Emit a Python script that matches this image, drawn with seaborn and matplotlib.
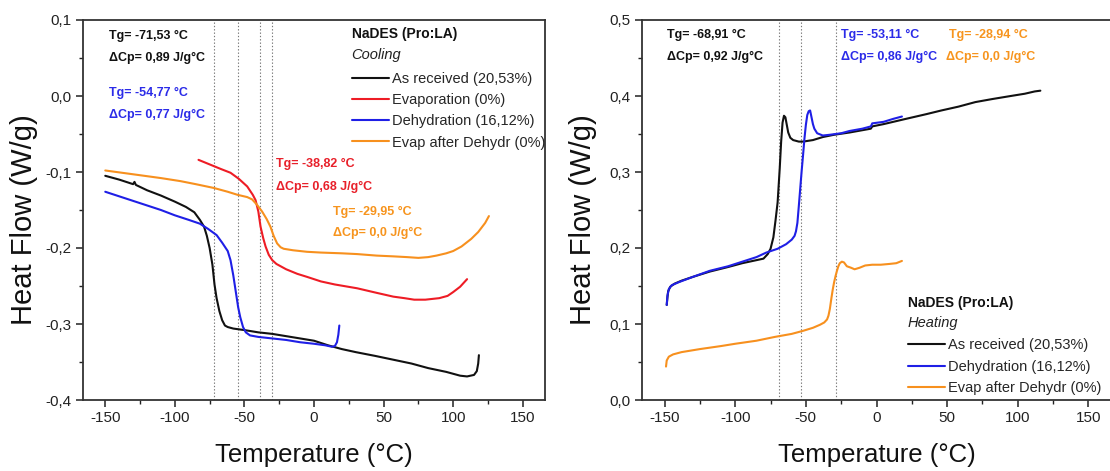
import numpy as np
import pandas as pd
import matplotlib
matplotlib.use("Agg")
import matplotlib.pyplot as plt
from matplotlib.ticker import MultipleLocator, FuncFormatter
import seaborn as sns

# ---------------- data: cooling (left panel) ----------------
cool_recv_x = [-150, -140, -130, -129, -128, -120, -110, -100, -92, -86, -82, -79, -77, -75, -73,
               -71.5, -70, -68, -66, -64, -62, -58, -50, -40, -30, -20, -10, 0, 10, 20, 30, 44,
               57, 70, 82, 95, 105, 110, 115, 117, 118, 118.5]
cool_recv_y = [-0.105, -0.110, -0.116, -0.113, -0.117, -0.124, -0.131, -0.139, -0.146, -0.153,
               -0.163, -0.172, -0.184, -0.200, -0.222, -0.248, -0.266, -0.283, -0.295, -0.302,
               -0.304, -0.306, -0.308, -0.311, -0.313, -0.316, -0.319, -0.322, -0.328, -0.333,
               -0.337, -0.342, -0.347, -0.352, -0.358, -0.363, -0.368, -0.369, -0.367, -0.362,
               -0.352, -0.341]

cool_evap_x = [-83, -75, -67, -60, -54, -48, -44, -42, -40, -38.4, -36.5, -34.8, -32.5, -30, -27,
               -24, -20, -12, -5, 5, 15, 31, 45, 57, 65, 72, 80, 90, 96, 100, 105, 110]
cool_evap_y = [-0.084, -0.090, -0.096, -0.101, -0.109, -0.119, -0.130, -0.137, -0.152, -0.172,
               -0.187, -0.198, -0.209, -0.216, -0.221, -0.224, -0.228, -0.234, -0.238, -0.244,
               -0.248, -0.253, -0.259, -0.264, -0.266, -0.268, -0.268, -0.266, -0.263, -0.258,
               -0.251, -0.241]

cool_dehy_x = [-150, -140, -130, -120, -110, -100, -90, -82, -76, -70, -66, -62, -60, -58, -56,
               -54.5, -53, -51, -49, -46, -40, -30, -20, -10, 0, 8, 13, 15, 16.5, 17.5, 18.2]
cool_dehy_y = [-0.126, -0.132, -0.138, -0.144, -0.150, -0.157, -0.163, -0.168, -0.175, -0.183,
               -0.193, -0.204, -0.216, -0.236, -0.260, -0.278, -0.291, -0.304, -0.311, -0.315,
               -0.317, -0.319, -0.321, -0.324, -0.326, -0.328, -0.330, -0.329, -0.324, -0.314,
               -0.302]

cool_evdh_x = [-150, -130, -110, -96, -85, -72, -62, -55, -48, -44.5, -41, -37.3, -34, -31.3,
               -29, -26.5, -24, -21.8, -15, -5, 5, 20, 31, 45, 57, 67, 75, 82, 88, 95, 100,
               106, 113, 118, 123, 125.7]
cool_evdh_y = [-0.098, -0.103, -0.108, -0.112, -0.116, -0.121, -0.126, -0.130, -0.133, -0.136,
               -0.143, -0.152, -0.162, -0.172, -0.184, -0.194, -0.199, -0.201, -0.203, -0.205,
               -0.206, -0.207, -0.208, -0.210, -0.211, -0.212, -0.213, -0.212, -0.210, -0.207,
               -0.204, -0.198, -0.188, -0.179, -0.167, -0.158]

cool_labels = ["As received (20,53%)", "Evaporation (0%)", "Dehydration (16,12%)",
               "Evap after Dehydr (0%)"]
cool_tg = [-71.53, -54.77, -38.82, -29.95]

# ---------------- data: heating (right panel) ----------------
heat_recv_x = [-148.5, -148, -147.5, -146, -143, -138, -130, -118, -105, -95, -85, -80, -77,
               -75, -73, -71.5, -70, -68.5, -67.5, -66.5, -65.5, -64.5, -63.5, -62.5, -61, -59,
               -55, -52, -45, -38, -30, -19, -10, -4, -3, 5, 21, 35, 46, 58, 70, 82, 95, 105,
               112, 116]
heat_recv_y = [0.125, 0.135, 0.143, 0.149, 0.153, 0.157, 0.162, 0.169, 0.175, 0.180, 0.184,
               0.186, 0.192, 0.199, 0.214, 0.236, 0.260, 0.305, 0.340, 0.365, 0.374, 0.372,
               0.362, 0.352, 0.345, 0.342, 0.340, 0.340, 0.342, 0.346, 0.349, 0.352, 0.355,
               0.357, 0.360, 0.363, 0.370, 0.376, 0.381, 0.386, 0.392, 0.396, 0.400, 0.403,
               0.406, 0.407]

heat_dehy_x = [-148.5, -148, -147, -145, -140, -130, -118, -105, -95, -85, -78, -70, -64, -60,
               -58, -57, -56, -55, -54, -53, -52, -51, -50, -49, -48, -47, -46, -45, -44, -42,
               -38, -33, -25, -19, -10, -4, -3, 5, 12, 18]
heat_dehy_y = [0.125, 0.137, 0.146, 0.151, 0.155, 0.162, 0.170, 0.176, 0.182, 0.188, 0.194,
               0.199, 0.205, 0.211, 0.216, 0.222, 0.233, 0.255, 0.278, 0.301, 0.322, 0.344,
               0.362, 0.375, 0.380, 0.381, 0.372, 0.363, 0.357, 0.351, 0.348, 0.349, 0.351,
               0.354, 0.357, 0.360, 0.364, 0.366, 0.370, 0.373]

heat_evdh_x = [-149, -148.5, -147, -144, -138, -125, -110, -100, -85, -72, -60, -52, -45, -40,
               -37, -35, -34, -33, -32, -31, -30, -29, -28, -27, -26, -24.5, -23, -21, -18,
               -15.5, -12, -8, -3, 3, 9, 14, 18]
heat_evdh_y = [0.044, 0.052, 0.057, 0.060, 0.063, 0.067, 0.071, 0.074, 0.078, 0.083, 0.087,
               0.091, 0.095, 0.099, 0.102, 0.106, 0.111, 0.120, 0.133, 0.145, 0.155, 0.163,
               0.170, 0.176, 0.180, 0.182, 0.181, 0.176, 0.174, 0.172, 0.174, 0.177, 0.178,
               0.178, 0.179, 0.180, 0.183]

heat_labels = ["As received (20,53%)", "Dehydration (16,12%)", "Evap after Dehydr (0%)"]
heat_tg = [-68.91, -53.11, -28.94]

# ---------------- styling ----------------
sns.set_theme(style="ticks")
plt.rcParams["font.family"] = ["Liberation Sans", "DejaVu Sans"]

BLACK = "#111111"
RED = "#ee1c25"
BLUE = "#1f1fe6"
ORANGE = "#f7901e"
TXT_BLUE = "#2b2be8"
TXT_RED = "#e8202a"
TXT_ORANGE = "#f7941d"

fig = plt.figure(figsize=(11.1, 4.71), dpi=100)
ax1 = fig.add_axes([83 / 1110, 71 / 471, 462 / 1110, 380 / 471])
ax2 = fig.add_axes([642 / 1110, 71 / 471, 469 / 1110, 380 / 471])

LW = 1.5

def draw(ax, xs, ys, color, label):
    df = pd.DataFrame({"T": xs, "HF": ys})
    sns.lineplot(data=df, x="T", y="HF", color=color, lw=LW, label=label,
                 sort=False, estimator=None, ax=ax)

# left panel
for tg in cool_tg:
    ax1.axvline(tg, color="#777777", lw=0.8, ls=(0, (1.2, 1.8)), zorder=0)
draw(ax1, cool_recv_x, cool_recv_y, BLACK, cool_labels[0])
draw(ax1, cool_evap_x, cool_evap_y, RED, cool_labels[1])
draw(ax1, cool_dehy_x, cool_dehy_y, BLUE, cool_labels[2])
draw(ax1, cool_evdh_x, cool_evdh_y, ORANGE, cool_labels[3])
ax1.set_xlim(-166, 166)
ax1.set_ylim(-0.4, 0.1)
ax1.yaxis.set_major_locator(MultipleLocator(0.1))
ax1.yaxis.set_minor_locator(MultipleLocator(0.05))

# right panel
for tg in heat_tg:
    ax2.axvline(tg, color="#777777", lw=0.8, ls=(0, (1.2, 1.8)), zorder=0)
draw(ax2, heat_recv_x, heat_recv_y, BLACK, heat_labels[0])
draw(ax2, heat_dehy_x, heat_dehy_y, BLUE, heat_labels[1])
draw(ax2, heat_evdh_x, heat_evdh_y, ORANGE, heat_labels[2])
ax2.set_xlim(-166, 166)
ax2.set_ylim(0.0, 0.5)
ax2.yaxis.set_major_locator(MultipleLocator(0.1))
ax2.yaxis.set_minor_locator(MultipleLocator(0.05))
ax2.spines["right"].set_visible(False)

comma = FuncFormatter(lambda v, p: ("%.1f" % v).replace(".", ",").replace("-0,0", "0,0"))
intfmt = FuncFormatter(lambda v, p: "%d" % round(v))

for ax, ylx in ((ax1, -0.097), (ax2, -0.096)):
    ax.xaxis.set_major_locator(MultipleLocator(50))
    ax.xaxis.set_minor_locator(MultipleLocator(25))
    ax.yaxis.set_major_formatter(comma)
    ax.xaxis.set_major_formatter(intfmt)
    ax.tick_params(which="major", direction="out", length=5, width=1.1, labelsize=11,
                   colors="#222222", pad=3)
    ax.tick_params(which="minor", direction="out", length=3, width=1.0, colors="#222222")
    for s in ax.spines.values():
        s.set_linewidth(1.3)
        s.set_color("#333333")
    ax.set_xlabel("Temperature (\u00b0C)", fontsize=18.5, color="#111111")
    ax.set_ylabel("Heat Flow (W/g)", fontsize=21, color="#111111")
    ax.xaxis.set_label_coords(0.5, -0.112)
    ax.yaxis.set_label_coords(ylx, 0.474)
    ax.grid(False)

# legends
leg_kw = dict(frameon=False, fontsize=10.5, handlelength=2.6, handletextpad=0.15,
              labelspacing=0.5, borderpad=0, borderaxespad=0, loc="upper left")
ax1.legend(bbox_to_anchor=(27, 0.032), bbox_transform=ax1.transData, **leg_kw)
ax2.legend(bbox_to_anchor=(22, 0.081), bbox_transform=ax2.transData, **leg_kw)

ax1.text(27, 0.082, "NaDES (Pro:LA)", fontsize=10, fontweight="bold",
         va="center", ha="left", color="#111111")
ax1.text(27, 0.054, "Cooling", fontsize=10.5, style="italic", va="center", ha="left",
         color="#222222")
ax2.text(22, 0.128, "NaDES (Pro:LA)", fontsize=10, fontweight="bold",
         va="center", ha="left", color="#111111")
ax2.text(22, 0.101, "Heating", fontsize=10.5, style="italic", va="center", ha="left",
         color="#222222")

def ann(ax, x, y, s, c):
    ax.text(x, y, s, fontsize=9, fontweight="bold", color=c, va="center", ha="left")

ann(ax1, -147, 0.079, "Tg= -71,53 \u00b0C", BLACK)
ann(ax1, -147, 0.050, "\u0394Cp= 0,89 J/g\u00b0C", BLACK)
ann(ax1, -147, 0.004, "Tg= -54,77 \u00b0C", TXT_BLUE)
ann(ax1, -147, -0.025, "\u0394Cp= 0,77 J/g\u00b0C", TXT_BLUE)
ann(ax1, -27, -0.090, "Tg= -38,82 \u00b0C", TXT_RED)
ann(ax1, -27, -0.120, "\u0394Cp= 0,68 J/g\u00b0C", TXT_RED)
ann(ax1, 14, -0.152, "Tg= -29,95 \u00b0C", TXT_ORANGE)
ann(ax1, 14, -0.180, "\u0394Cp= 0,0 J/g\u00b0C", TXT_ORANGE)

ann(ax2, -148, 0.480, "Tg= -68,91 \u00b0C", BLACK)
ann(ax2, -148, 0.451, "\u0394Cp= 0,92 J/g\u00b0C", BLACK)
ann(ax2, -25, 0.480, "Tg= -53,11 \u00b0C", TXT_BLUE)
ann(ax2, -25, 0.451, "\u0394Cp= 0,86 J/g\u00b0C", TXT_BLUE)
ann(ax2, 51, 0.480, "Tg= -28,94 \u00b0C", TXT_ORANGE)
ann(ax2, 49, 0.451, "\u0394Cp= 0,0 J/g\u00b0C", TXT_ORANGE)

fig.savefig("out.png", dpi=100)
